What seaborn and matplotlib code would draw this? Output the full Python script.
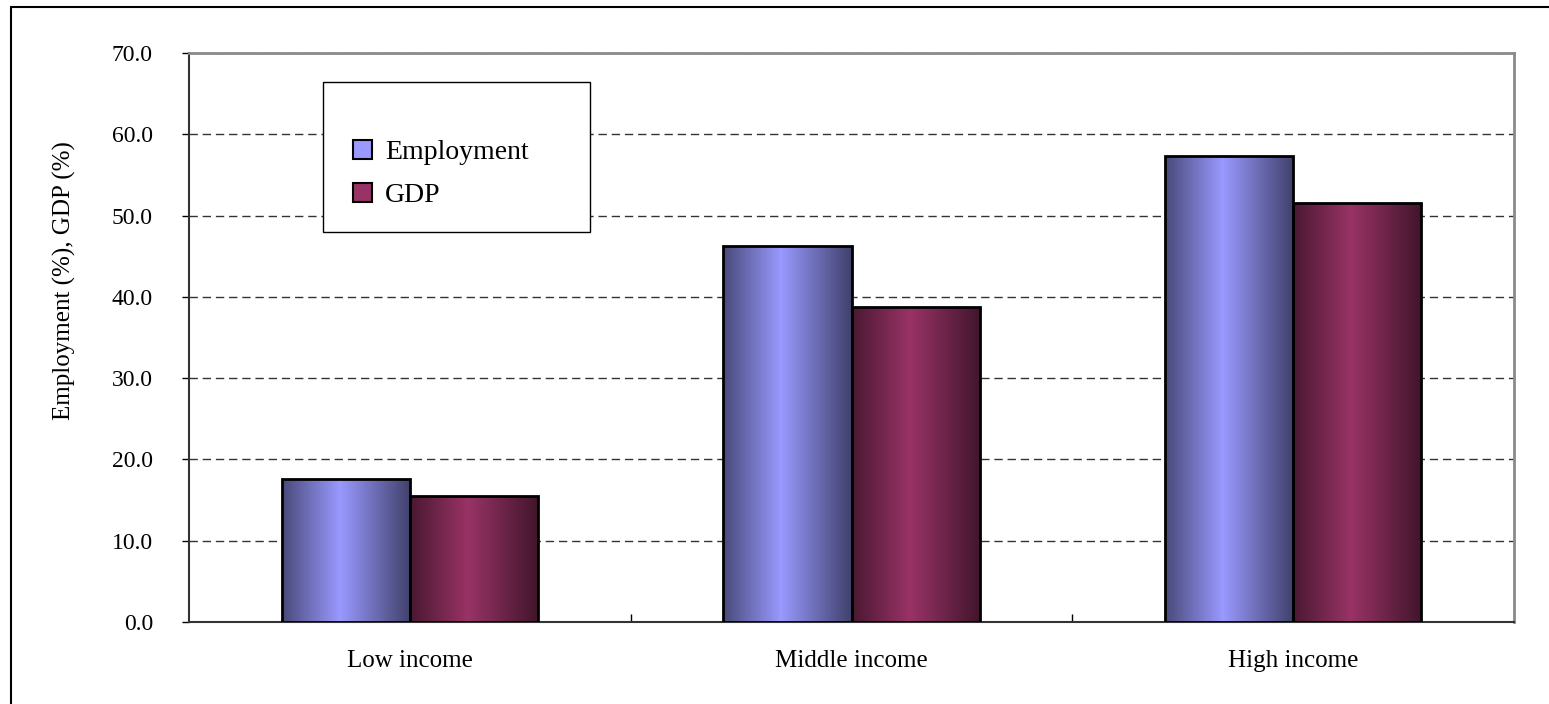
import numpy as np
import pandas as pd
import matplotlib
matplotlib.use("Agg")
import matplotlib.pyplot as plt
import seaborn as sns
from matplotlib.colors import to_rgb
from matplotlib.patches import Rectangle
from matplotlib.ticker import FormatStrFormatter, FixedLocator

categories = ["Low income", "Middle income", "High income"]
employment = [17.6, 46.3, 57.3]
gdp = [15.5, 38.8, 51.5]
series_names = ["Employment", "GDP"]
series_colors = ["#9999ff", "#993366"]
yticks = [0, 10, 20, 30, 40, 50, 60, 70]
y_label = "Employment (%), GDP (%)"

df = pd.DataFrame({
    "Income": categories * 2,
    "Series": [series_names[0]] * len(categories) + [series_names[1]] * len(categories),
    "Value": employment + gdp,
})
palette = dict(zip(series_names, series_colors))

sns.set_theme(style="white")
plt.rcParams['font.family'] = ['Liberation Serif', 'DejaVu Serif']
plt.rcParams['text.color'] = 'black'
plt.rcParams['axes.labelcolor'] = 'black'
plt.rcParams['xtick.color'] = 'black'
plt.rcParams['ytick.color'] = 'black'

fig = plt.figure(figsize=(15.49, 7.04), dpi=100)
ax = fig.add_axes([189 / 1549, 82 / 704, 1325 / 1549, 569 / 704])

sns.barplot(data=df, x="Income", y="Value", hue="Series", palette=palette,
            width=0.58, edgecolor="black", linewidth=2, saturation=1,
            ax=ax, legend=False, zorder=3)


def gradient_rgb(color, n=256):
    c = np.array(to_rgb(color))
    t = np.linspace(0, 1, n)
    stops_t = [0.0, 0.45, 1.0]
    stops_f = [0.48, 1.0, 0.42]
    f = np.interp(t, stops_t, stops_f)
    return np.clip(c[None, :] * f[:, None], 0, 1)[None, :, :]


for i, container in enumerate(ax.containers):
    grad = gradient_rgb(series_colors[i])
    for bar in container:
        x, y = bar.get_x(), bar.get_y()
        w, h = bar.get_width(), bar.get_height()
        im = ax.imshow(grad, extent=[x, x + w, y, y + h], aspect="auto",
                       zorder=2.9, interpolation="bilinear")
        im.set_clip_path(bar)
        bar.set_facecolor("none")

ax.set_xlim(-0.5, 2.5)
ax.set_ylim(0, 70)
ax.set_aspect("auto")
ax.set_yticks(yticks)
ax.yaxis.set_major_formatter(FormatStrFormatter("%.1f"))
ax.set_xlabel("")
ax.set_ylabel(y_label, fontsize=18)
ax.yaxis.set_label_coords(-0.0855, (622 - 281) / 569)

ax.set_axisbelow(True)
ax.yaxis.grid(True, linestyle=(0, (6, 3.5)), color="#333333", linewidth=1)
ax.xaxis.grid(False)

ax.tick_params(axis="y", which="major", direction="out", length=5, width=1,
               color="black", labelsize=17, pad=21, left=True)
ax.tick_params(axis="x", which="major", length=0, labelsize=18, pad=20)
ax.xaxis.set_minor_locator(FixedLocator([0.5, 1.5]))
ax.tick_params(axis="x", which="minor", direction="in", length=6, width=1,
               color="black", bottom=True)

for side in ["left", "bottom"]:
    ax.spines[side].set_color("#333333")
    ax.spines[side].set_linewidth(1.5)
for side in ["top", "right"]:
    ax.spines[side].set_color("#8a8a8a")
    ax.spines[side].set_linewidth(2)

# legend box drawn separately so its size can match the reference
legend_box = Rectangle((134 / 1325, (622 - 232) / 569), 267 / 1325, 150 / 569,
                       transform=ax.transAxes, facecolor="white",
                       edgecolor="black", linewidth=1, zorder=5)
ax.add_patch(legend_box)

handles = [Rectangle((0, 0), 1, 1, facecolor=c, edgecolor="black", linewidth=1.5)
           for c in series_colors]
leg = ax.legend(handles, series_names, loc="upper left",
                bbox_to_anchor=((353 - 189) / 1325, (622 - 140) / 569),
                fontsize=20, frameon=False,
                handlelength=0.7, handleheight=0.7, handletextpad=0.45,
                labelspacing=0.62, borderpad=0, borderaxespad=0)
leg.set_zorder(6)

border = Rectangle((11 / 1549, -0.05), 1.2, 1.05 - 7 / 704, transform=fig.transFigure,
                   facecolor="none", edgecolor="black", linewidth=1.5, clip_on=False)
fig.patches.append(border)

fig.savefig("out.png", dpi=100)
